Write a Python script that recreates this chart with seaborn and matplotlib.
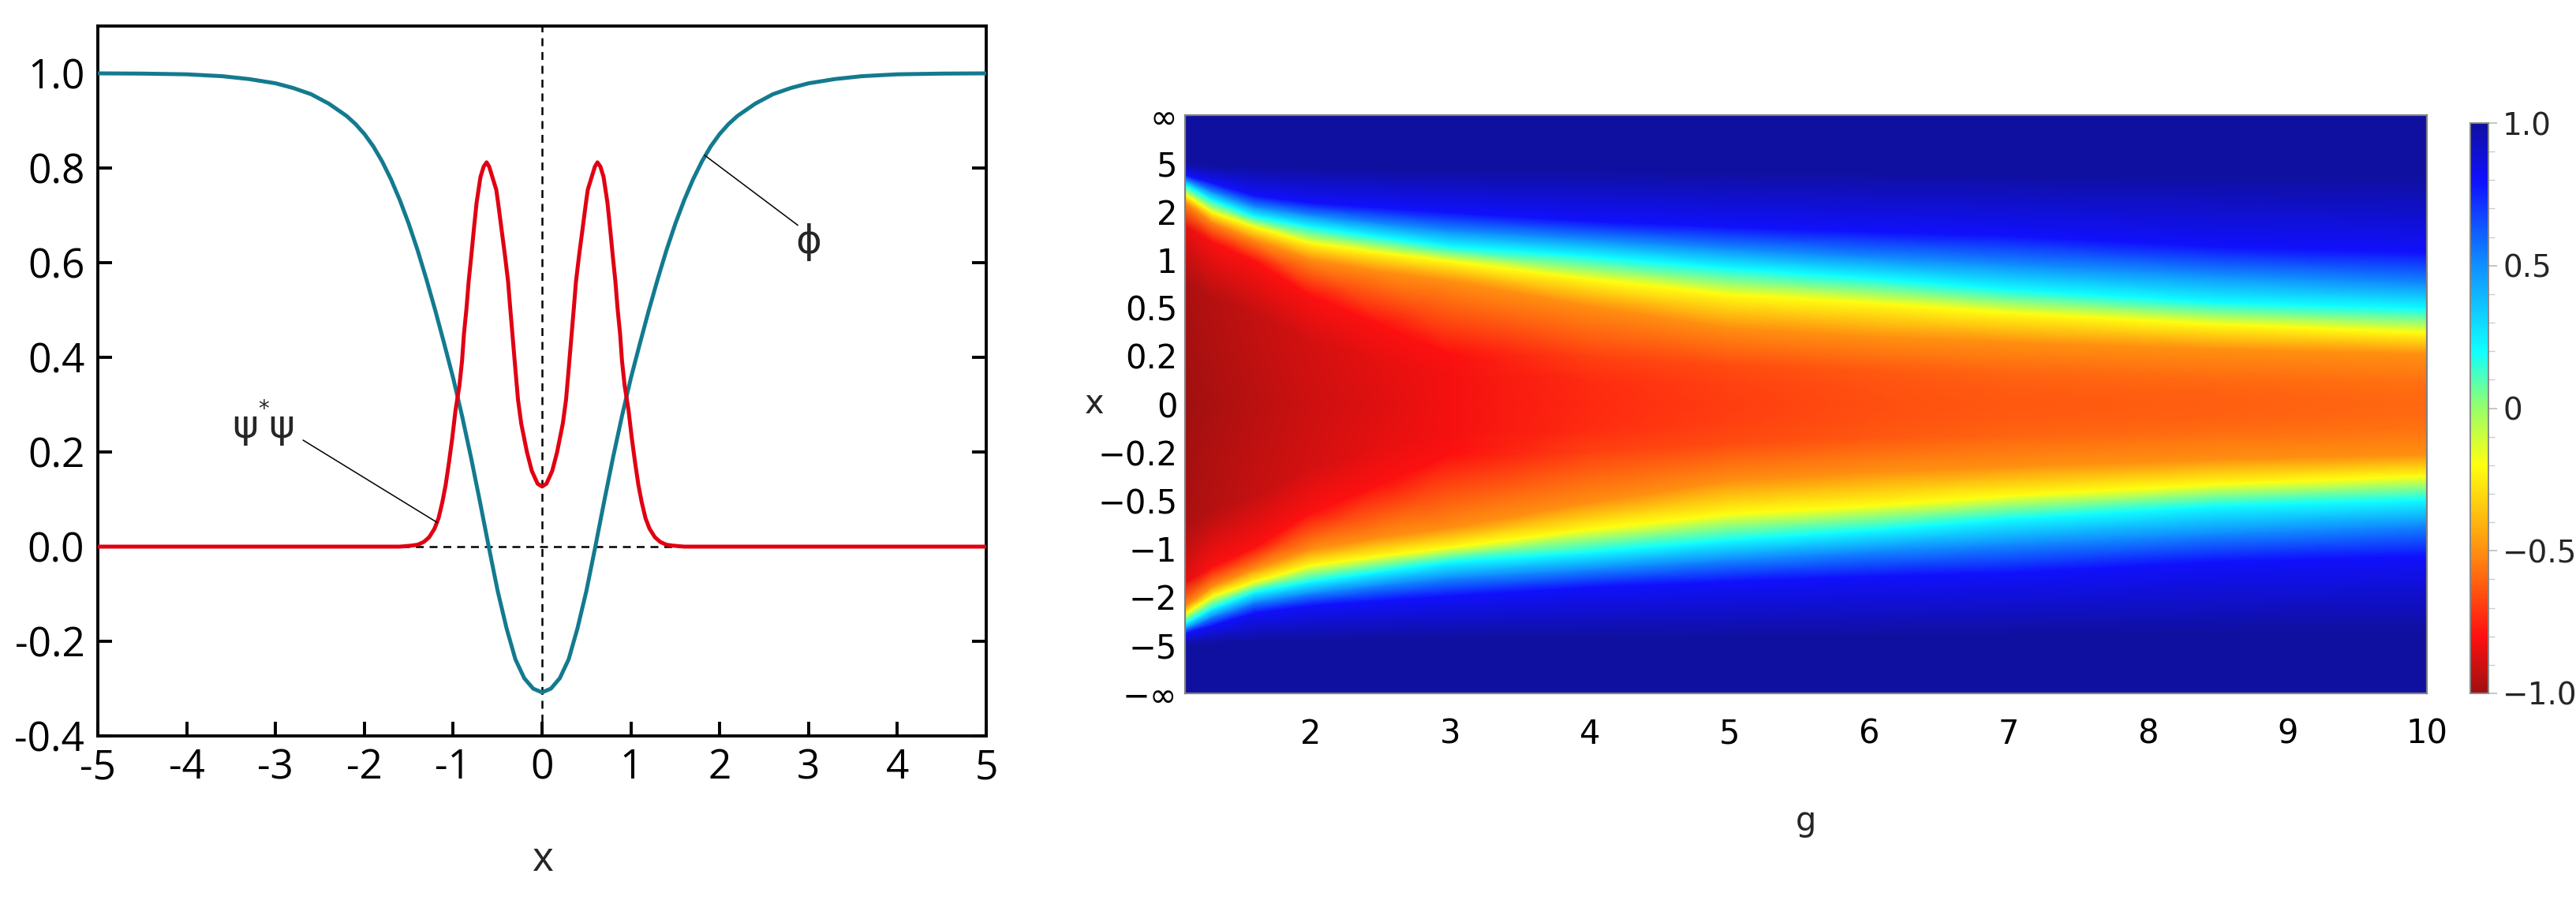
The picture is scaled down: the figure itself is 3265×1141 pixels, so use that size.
import numpy as np
import matplotlib
matplotlib.use('Agg')
import matplotlib.pyplot as plt
from matplotlib.colors import LinearSegmentedColormap
from matplotlib.ticker import MultipleLocator
import seaborn as sns

#%%
# left panel, read for x >= 0 (both curves are even in x)
x_phi = [0.0, 0.1, 0.2, 0.3, 0.4, 0.5, 0.6, 0.7, 0.8, 0.9, 1.0, 1.1, 1.2, 1.3, 1.4,
         1.5, 1.6, 1.7, 1.8, 1.9, 2.0, 2.1, 2.2, 2.4, 2.6, 2.8, 3.0, 3.3, 3.6, 4.0,
         4.5, 5.0]
phi = [-0.308, -0.300, -0.278, -0.238, -0.172, -0.093, 0.0, 0.096, 0.189, 0.276,
       0.356, 0.428, 0.498, 0.564, 0.626, 0.682, 0.732, 0.776, 0.814, 0.846, 0.872,
       0.893, 0.910, 0.936, 0.956, 0.969, 0.979, 0.988, 0.994, 0.998, 0.9995, 1.0]

x_psi = [0.0, 0.05, 0.115, 0.17, 0.234, 0.27, 0.30, 0.358, 0.382, 0.417, 0.456,
         0.494, 0.515, 0.559, 0.595, 0.624, 0.657, 0.693, 0.737, 0.767, 0.796,
         0.826, 0.85, 0.879, 0.90, 0.93, 0.974, 1.01, 1.048, 1.085, 1.122, 1.165,
         1.21, 1.27, 1.33, 1.40, 1.477, 1.6, 5.0]
psi2 = [0.127, 0.133, 0.16, 0.2, 0.26, 0.31, 0.375, 0.504, 0.56, 0.615, 0.671,
        0.726, 0.754, 0.781, 0.803, 0.812, 0.803, 0.781, 0.726, 0.671, 0.615,
        0.56, 0.504, 0.449, 0.393, 0.34, 0.288, 0.23, 0.177, 0.13, 0.094, 0.06,
        0.038, 0.02, 0.01, 0.004, 0.002, 0.0, 0.0]

# right panel, phi(g, x) read for the upper half (lower half is its mirror)
g_cols = [1.1, 1.3, 1.6, 2.0, 2.5, 3.0, 4.0, 5.0, 6.0, 7.0, 8.5, 10.0]
centre = [-1.0, -0.97, -0.94, -0.9, -0.86, -0.82, -0.74, -0.69, -0.65, -0.63, -0.61, -0.59]
u_mid = [2.5, 2.2, 1.9, 1.3, 0.9, 0.6, 0.5, 0.4, 0.35, 0.3, 0.28, 0.25]
v_mid = [-0.97, -0.95, -0.92, -0.89, -0.85, -0.82, -0.73, -0.685, -0.645, -0.625, -0.605, -0.585]
u_inner = [3.7, 3.37, 2.97, 2.26, 1.66, 1.05, 1.0, 0.8, 0.7, 0.65, 0.55, 0.5]
v_inner = [-0.85, -0.8, -0.8, -0.8, -0.8, -0.8, -0.68, -0.66, -0.63, -0.6, -0.58, -0.57]
# positions (in axis units) where the field reaches a given level
u_m05 = [4.2, 3.78, 3.42, 3.02, 2.77, 2.57, 2.05, 1.6, 1.42, 1.3, 1.15, 1.05]
u_m02 = [4.35, 3.98, 3.68, 3.35, 3.15, 2.97, 2.6, 2.28, 2.11, 1.9, 1.66, 1.49]
u_p02 = [4.55, 4.23, 3.9, 3.68, 3.47, 3.27, 3.07, 2.82, 2.62, 2.38, 2.11, 1.98]
u_p05 = [4.66, 4.4, 4.1, 3.92, 3.75, 3.6, 3.42, 3.22, 3.05, 2.9, 2.68, 2.5]
u_p08 = [4.76, 4.59, 4.33, 4.18, 4.08, 3.98, 3.8, 3.68, 3.58, 3.5, 3.27, 3.15]
u_p10 = [5.0, 4.95, 4.92, 4.9, 4.88, 4.86, 4.85, 4.82, 4.8, 4.78, 4.74, 4.7]

y_tick_labels = ['\u2212\u221e', '\u22125', '\u22122', '\u22121', '\u22120.5', '\u22120.2', '0',
                 '0.2', '0.5', '1', '2', '5', '\u221e']
cbar_levels = [-1.0, -0.8, -0.5, -0.2, 0.0, 0.2, 0.5, 0.8, 1.0]
cbar_colors = ['#a01010', '#ff1010', '#ff9010', '#ffff10', '#98ff68', '#10ffff',
               '#1090ff', '#1010ff', '#1010a0']

#%%
sns.set_style("white")
plt.rcParams['font.family'] = ['Open Sans', 'DejaVu Sans']

fig = plt.figure(figsize=(32.65, 11.41), dpi=100)

# ---------------- left panel
ax1 = fig.add_axes([124 / 3265, 1 - 933 / 1141, 1126 / 3265, 900 / 1141])

xh = np.array(x_phi)
x_line = np.concatenate([-xh[::-1], xh[1:]])
y_line = np.concatenate([np.array(phi)[::-1], np.array(phi)[1:]])
xp = np.array(x_psi)
x_red = np.concatenate([-xp[::-1], xp[1:]])
y_red = np.concatenate([np.array(psi2)[::-1], np.array(psi2)[1:]])

ax1.axhline(0, color='black', lw=1.8, ls=(0, (4, 3)), zorder=1)
ax1.axvline(0, color='black', lw=1.8, ls=(0, (4, 3)), zorder=1)
sns.lineplot(x=x_line, y=y_line, ax=ax1, color='#137a8f', lw=3.6, zorder=3)
sns.lineplot(x=x_red, y=y_red, ax=ax1, color='#e00012', lw=3.6, zorder=4)

ax1.plot([-2.69, -1.18], [0.225, 0.051], color='black', lw=1.1, zorder=5)
ax1.plot([1.83, 2.88], [0.827, 0.679], color='black', lw=1.1, zorder=5)
ax1.text(-3.34, 0.253, '\u03c8', fontsize=36, ha='center', va='center', family=['DejaVu Sans'])
ax1.text(-2.93, 0.253, '\u03c8', fontsize=36, ha='center', va='center', family=['DejaVu Sans'])
ax1.text(-3.13, 0.29, '*', fontsize=20, ha='center', va='center', family=['DejaVu Sans'])
ax1.text(3.0, 0.643, '\u03d5', fontsize=36, ha='center', va='center', family=['DejaVu Sans'])

ax1.set_xlim(-5, 5)
ax1.set_ylim(-0.4, 1.1)
ax1.set_xticks(range(-5, 6))
ax1.set_xticklabels([str(v) for v in range(-5, 6)])
yt = [-0.4, -0.2, 0.0, 0.2, 0.4, 0.6, 0.8, 1.0]
ax1.set_yticks(yt)
ax1.set_yticklabels([f'{v:.1f}' for v in yt])
ax1.tick_params(axis='both', direction='in', length=13, width=2.8, labelsize=37,
                left=True, right=True, bottom=True, top=False, colors='black')
ax1.tick_params(axis='x', pad=11)
ax1.tick_params(axis='y', pad=12)
for s in ax1.spines.values():
    s.set_color('black')
    s.set_linewidth(2.8)
ax1.set_xlabel('')
ax1.set_ylabel('')
ax1.text(0.5, (933 - 1091) / 900, 'x', transform=ax1.transAxes, fontsize=37,
         ha='center', va='center')

# ---------------- right panel
ax2 = fig.add_axes([1502 / 3265, 1 - 879 / 1141, 1574 / 3265, 733 / 1141])

cmap = LinearSegmentedColormap.from_list(
    'field', [((v + 1) / 2, c) for v, c in zip(cbar_levels, cbar_colors)])

n = len(g_cols)
top = np.full(n, 6.0)
zero = np.zeros(n)
upper_u = [u_mid, u_inner, u_m05, u_m02, u_p02, u_p05, u_p08, u_p10, top]
upper_v = [v_mid, v_inner, np.full(n, -0.5), np.full(n, -0.2), np.full(n, 0.2),
           np.full(n, 0.5), np.full(n, 0.8), np.full(n, 1.0), np.full(n, 1.0)]
U = np.vstack([-np.array(r) for r in upper_u[::-1]] + [zero] + [np.array(r) for r in upper_u])
V = np.vstack([np.array(r) for r in upper_v[::-1]] + [np.array(centre)] + [np.array(r) for r in upper_v])
G = np.tile(np.array(g_cols), (U.shape[0], 1))

mesh = ax2.pcolormesh(G, U, V, shading='gouraud', cmap=cmap, vmin=-1, vmax=1)

ax2.set_xlim(1.1, 10)
ax2.set_ylim(-6, 6)
ax2.set_xticks(range(2, 11))
ax2.set_yticks(range(-6, 7))
ax2.set_yticklabels(y_tick_labels)
ax2.tick_params(axis='both', direction='in', length=7, width=1.5, color='#777777',
                labelsize=30, labelcolor='black', labelfontfamily='DejaVu Sans')
ax2.tick_params(axis='x', pad=22)
ax2.tick_params(axis='y', pad=7)
for s in ax2.spines.values():
    s.set_color('#808080')
    s.set_linewidth(1.6)
ax2.text(0.5, (879 - 1041) / 733, 'g', transform=ax2.transAxes, fontsize=30,
         ha='center', va='center', family=['DejaVu Sans'])
ax2.text((1387 - 1502) / 1574, 0.5, 'x', transform=ax2.transAxes, fontsize=30,
         ha='center', va='center', family=['DejaVu Sans'])

# colour bar
cax = fig.add_axes([3131 / 3265, 1 - 879 / 1141, 23 / 3265, 723 / 1141])
cb = fig.colorbar(mesh, cax=cax)
cb.set_ticks([-1, -0.5, 0, 0.5, 1])
cb.set_ticklabels(['\u22121.0', '\u22120.5', '0', '0.5', '1.0'])
cb.ax.yaxis.set_minor_locator(MultipleLocator(0.1))
cb.outline.set_edgecolor('#888888')
cb.outline.set_linewidth(1.4)
cb.ax.tick_params(which='major', length=8, width=1.2, color='#bbbbbb', labelsize=28,
                  pad=5, labelfontfamily='DejaVu Sans')
cb.ax.tick_params(which='minor', length=6, width=1.0, color='#cccccc')

fig.savefig('out.png', dpi=100)
